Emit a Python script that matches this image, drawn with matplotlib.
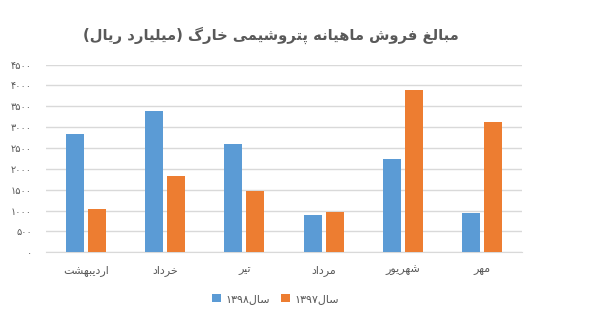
import matplotlib
matplotlib.use("Agg")
import matplotlib.pyplot as plt
import numpy as np

# donnees (milliards de rials)
mois = ["اردیبهشت", "خرداد", "تیر", "مرداد", "شهریور", "مهر"]
ventes_1398 = [2830, 3380, 2590, 890, 2230, 940]
ventes_1397 = [1040, 1825, 1470, 965, 3885, 3120]
y_ticks = [0, 500, 1000, 1500, 2000, 2500, 3000, 3500, 4000, 4500]
titre = "مبالغ فروش ماهیانه پتروشیمی خارگ (میلیارد ریال)"
legende = ["سال۱۳۹۸", "سال۱۳۹۷"]

# mise en forme arabe/persane minimale (formes de presentation + ordre visuel)
FORMES = {  # iso, fin, ini, med
    "ا": ("\uFE8D", "\uFE8E", None, None),
    "ب": ("\uFE8F", "\uFE90", "\uFE91", "\uFE92"),
    "پ": ("\uFB56", "\uFB57", "\uFB58", "\uFB59"),
    "ت": ("\uFE95", "\uFE96", "\uFE97", "\uFE98"),
    "خ": ("\uFEA5", "\uFEA6", "\uFEA7", "\uFEA8"),
    "د": ("\uFEA9", "\uFEAA", None, None),
    "ر": ("\uFEAD", "\uFEAE", None, None),
    "س": ("\uFEB1", "\uFEB2", "\uFEB3", "\uFEB4"),
    "ش": ("\uFEB5", "\uFEB6", "\uFEB7", "\uFEB8"),
    "غ": ("\uFECD", "\uFECE", "\uFECF", "\uFED0"),
    "ف": ("\uFED1", "\uFED2", "\uFED3", "\uFED4"),
    "گ": ("\uFB92", "\uFB93", "\uFB94", "\uFB95"),
    "ل": ("\uFEDD", "\uFEDE", "\uFEDF", "\uFEE0"),
    "م": ("\uFEE1", "\uFEE2", "\uFEE3", "\uFEE4"),
    "ن": ("\uFEE5", "\uFEE6", "\uFEE7", "\uFEE8"),
    "ه": ("\uFEE9", "\uFEEA", "\uFEEB", "\uFEEC"),
    "و": ("\uFEED", "\uFEEE", None, None),
    "ی": ("\uFBFC", "\uFBFD", "\uFBFE", "\uFBFF"),
}
MIROIR = {"(": ")", ")": "("}


def fa(txt):
    out = []
    for i, c in enumerate(txt):
        if c not in FORMES:
            out.append(c)
            continue
        prev = txt[i - 1] if i > 0 else ""
        nxt = txt[i + 1] if i + 1 < len(txt) else ""
        j_prev = prev in FORMES and FORMES[prev][2] is not None
        j_next = FORMES[c][2] is not None and nxt in FORMES
        f = FORMES[c]
        if j_prev and j_next:
            out.append(f[3])
        elif j_prev:
            out.append(f[1])
        elif j_next:
            out.append(f[2])
        else:
            out.append(f[0])
    # ordre visuel : les chiffres restent de gauche a droite
    runs, cur, cur_dig = [], "", None
    for c in out:
        dig = "\u06F0" <= c <= "\u06F9"
        if cur and dig != cur_dig:
            runs.append((cur, cur_dig)); cur = ""
        cur += c; cur_dig = dig
    if cur:
        runs.append((cur, cur_dig))
    vis = ""
    for r, dig in reversed(runs):
        vis += r if dig else "".join(MIROIR.get(ch, ch) for ch in reversed(r))
    return vis


def chiffres_fa(n):
    return "".join(chr(0x06F0 + int(d)) for d in str(n))


BLEU, ORANGE, GRIS = "#5B9BD5", "#ED7D31", "#595959"
plt.rcParams["font.family"] = ["DejaVu Sans"]

fig = plt.figure(figsize=(5.93, 3.16), dpi=100)
ax = fig.add_axes([0.0776, 0.2016, 0.8024, 0.594])

x = np.arange(len(mois))
w = 0.227
ax.bar(x - 0.139, ventes_1398, w, color=BLEU, label=fa(legende[0]), zorder=3)
ax.bar(x + 0.139, ventes_1397, w, color=ORANGE, label=fa(legende[1]), zorder=3)

ax.set_xlim(-0.5, len(mois) - 0.5)
ax.set_ylim(0, 4500)
ax.set_yticks(y_ticks)
ax.set_yticklabels([chiffres_fa(v) for v in y_ticks], fontsize=7, color=GRIS)
ax.set_xticks(x)
ax.set_xticklabels([fa(m) for m in mois], fontsize=8, color=GRIS)
ax.tick_params(length=0, pad=10)
ax.tick_params(axis="x", pad=9)
ax.grid(axis="y", color="#D9D9D9", linewidth=1, zorder=0)
for s in ["top", "right", "left"]:
    ax.spines[s].set_visible(False)
ax.spines["bottom"].set_color("#D9D9D9")

fig.text(0.457, 0.889, fa(titre), ha="center", va="center",
         fontsize=10.6, fontweight="bold", color=GRIS)
fig.legend(loc="center", bbox_to_anchor=(0.464, 0.054), ncol=2, frameon=False,
           fontsize=8, handlelength=0.8, handleheight=0.8, handletextpad=0.4,
           columnspacing=1.0, labelcolor=GRIS)

fig.savefig("out.png", dpi=100)
